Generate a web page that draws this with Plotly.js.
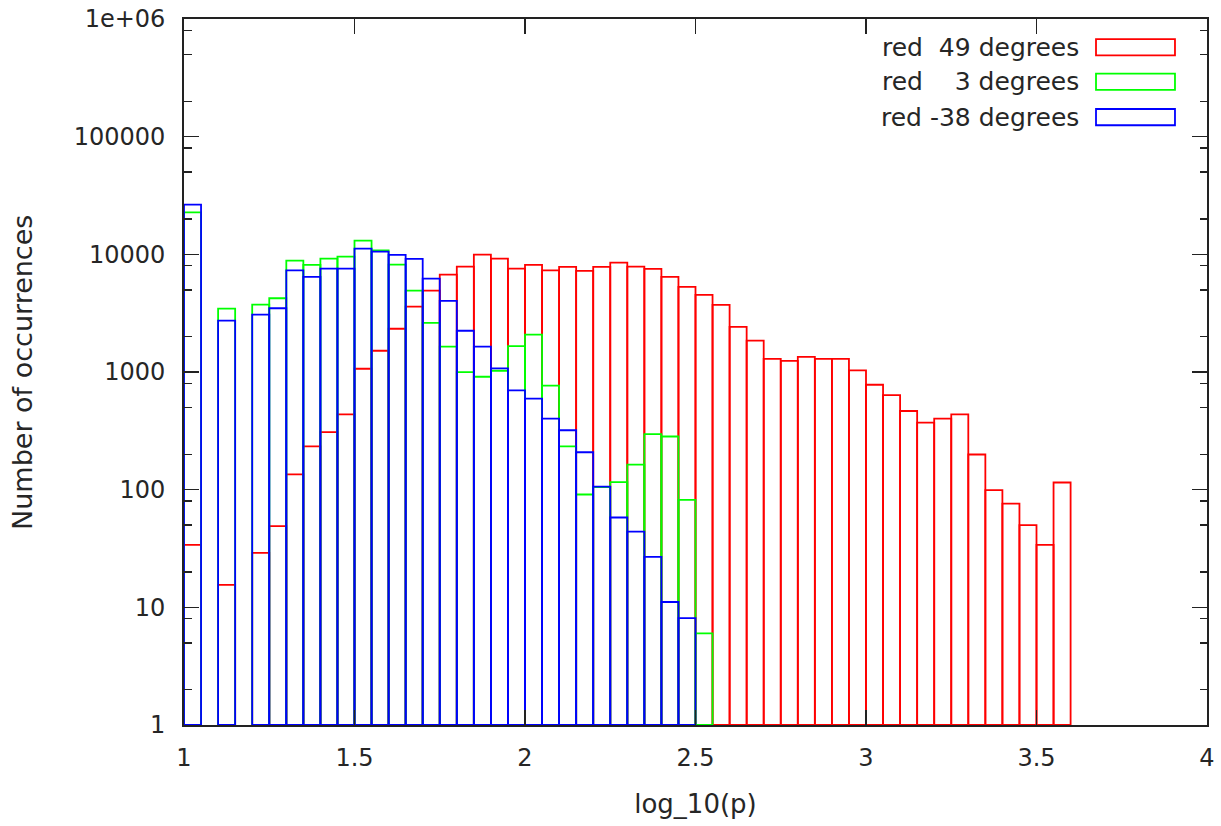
<!DOCTYPE html>
<html><head><meta charset="utf-8">
<script src="https://cdn.plot.ly/plotly-3.0.1.min.js"></script>
<style>html,body{margin:0;padding:0;background:#fff}</style>
</head><body><div id="chart" style="width:1221px;height:826px"></div>
<script>
const binCenters = [1.025,1.075,1.125,1.175,1.225,1.275,1.325,1.375,1.425,1.475,
  1.525,1.575,1.625,1.675,1.725,1.775,1.825,1.875,1.925,1.975,
  2.025,2.075,2.125,2.175,2.225,2.275,2.325,2.375,2.425,2.475,
  2.525,2.575,2.625,2.675,2.725,2.775,2.825,2.875,2.925,2.975,
  3.025,3.075,3.125,3.175,3.225,3.275,3.325,3.375,3.425,3.475,
  3.525,3.575];
const binWidth = 0.05;
const seriesNames = ['red\u00a0\u00a049 degrees', 'red\u00a0\u00a0\u00a0\u00a03 degrees', 'red -38 degrees'];
const red49 = [33,null,14.5,null,28,48,134,232,307,436,
  1065,1514,2330,3595,4920,6730,7860,9930,9190,7560,
  8130,7310,7820,7230,7820,8500,7860,7520,6430,5290,
  4520,3720,2420,1845,1294,1244,1345,1294,1294,1030,
  778,635,465,371,401,436,198,98,75,49,
  33,114];
const red3 = [22700,null,3460,null,3740,4235,8840,8130,9190,9550,
  13060,10810,8170,4920,2616,1645,997,910,1024,1656,
  2080,764,232,90,104,115,162,295,282,81,
  5];
const redMinus38 = [26400,null,2735,null,3077,3480,7310,6420,7560,7560,
  11170,10550,9880,9140,6220,4020,2240,1645,1071,697,
  593,401,319,207,105,57,43,25.8,10.1,7.1];
const seriesValues = [red49, red3, redMinus38];
const seriesColors = ['#ff0000', '#00ff00', '#0000ff'];
const yTickVals = [1,10,100,1000,10000,100000,1000000];
const yTickText = ['1','10','100','1000','10000','100000','1e+06'];
const yMinorVals = [2,5,8,20,50,80,200,500,800,2000,5000,8000,20000,50000,80000,200000,500000,800000];
const xTickVals = [1,1.5,2,2.5,3,3.5,4];
const xTickText = ['1','1.5','2','2.5','3','3.5','4'];
const xTitle = 'log_10(p)';
const yTitle = 'Number of occurrences';

const FONT = 'DejaVu Sans, sans-serif';
const TXT = '#262626';

const traces = seriesValues.map((vals, i) => ({
  type: 'bar',
  name: seriesNames[i],
  x: binCenters.slice(0, vals.length),
  y: vals,
  base: 1,
  width: binWidth,
  marker: {color: 'rgba(0,0,0,0)', line: {color: seriesColors[i], width: 1.8}},
  showlegend: false,
  hoverinfo: 'skip'
}));

// legend (gnuplot style: text right-aligned, sample box on the right)
const legRowY = [0.96, 0.911, 0.861];
const annotations = [];
const shapes = [];
seriesNames.forEach((n, i) => {
  annotations.push({xref: 'paper', yref: 'paper', x: 0.8765, y: legRowY[i], xanchor: 'right', yanchor: 'middle',
    text: n, showarrow: false, font: {family: FONT, size: 25, color: TXT}});
  shapes.push({type: 'rect', xref: 'paper', yref: 'paper', x0: 0.8915, x1: 0.9687,
    y0: legRowY[i] - 0.0115, y1: legRowY[i] + 0.0115, line: {color: seriesColors[i], width: 1.8}, fillcolor: 'rgba(0,0,0,0)'});
});
// y axis title placed like gnuplot (far left)
annotations.push({xref: 'paper', yref: 'paper', x: -0.1584, y: 0.5, xanchor: 'center', yanchor: 'middle',
  textangle: -90, text: yTitle, showarrow: false, font: {family: FONT, size: 27, color: TXT}});

const layout = {
  width: 1221, height: 826,
  margin: {l: 184, r: 14, t: 19, b: 101, pad: 0},
  paper_bgcolor: '#fff', plot_bgcolor: '#fff',
  barmode: 'overlay',
  showlegend: false,
  font: {family: FONT, size: 25, color: TXT},
  xaxis: {
    range: [1, 4], tickmode: 'array', tickvals: xTickVals, ticktext: xTickText,
    ticks: 'inside', ticklen: 15, tickwidth: 1.5, tickcolor: '#222',
    showline: true, linecolor: '#222', linewidth: 1.8, mirror: 'allticks',
    showgrid: false, zeroline: false, ticklabelstandoff: 10,
    tickfont: {family: FONT, size: 24, color: TXT},
    title: {text: xTitle, font: {family: FONT, size: 26, color: TXT}, standoff: 24}
  },
  yaxis: {
    type: 'log', range: [0, 6], tickmode: 'array', tickvals: yTickVals, ticktext: yTickText,
    ticks: 'inside', ticklen: 15, tickwidth: 1.5, tickcolor: '#222',
    minor: {tickmode: 'array', tickvals: yMinorVals, ticks: 'inside', ticklen: 7.5, tickwidth: 1.5, tickcolor: '#222', showgrid: false},
    showline: true, linecolor: '#222', linewidth: 1.8, mirror: 'allticks',
    showgrid: false, zeroline: false, ticklabelstandoff: 12,
    tickfont: {family: FONT, size: 24, color: TXT}
  },
  annotations: annotations,
  shapes: shapes
};

Plotly.newPlot('chart', traces, layout, {displayModeBar: false, staticPlot: true});
</script>
</body></html>
